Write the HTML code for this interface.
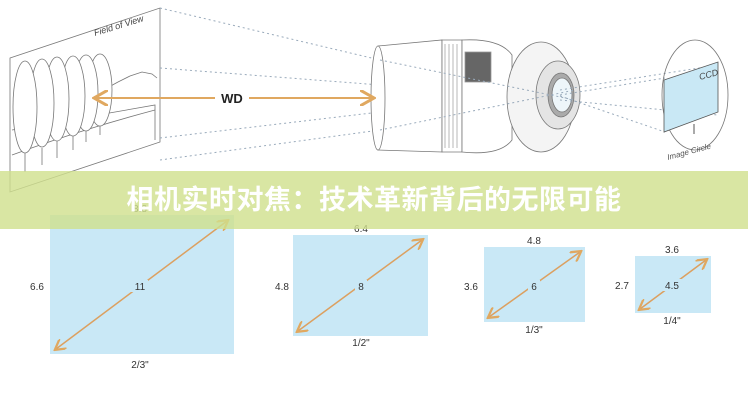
<!DOCTYPE html>
<html><head><meta charset="utf-8"><style>
body{margin:0;background:#fff;width:748px;height:400px;overflow:hidden;position:relative;font-family:"Liberation Sans",sans-serif}
svg{position:absolute;left:0;top:0}
.banner{position:absolute;left:0;top:171px;width:748px;height:58px;background:rgba(207,224,140,0.8);color:#fff;font:bold 27px "Liberation Sans","Noto Sans CJK SC",sans-serif;text-align:center;line-height:58px;letter-spacing:0.5px}
</style></head><body>
<svg width="748" height="400" viewBox="0 0 748 400" font-family="Liberation Sans, sans-serif">
<defs><marker id="a" markerWidth="8" markerHeight="8" refX="6" refY="4" orient="auto-start-reverse"><path d="M0,0 L7,4 L0,8" fill="none" stroke="#e0a860" stroke-width="1.5"/></marker></defs>
<g stroke="#777" fill="none" stroke-width="0.8">
<path d="M10,58 L160,8 L160,142 L10,192 Z"/>
<path d="M107,88 L118,82 L130,76 L142,72 L152,74 L157,78"/>
<path d="M12,130 L155,105 L155,140"/>
<path d="M12,155 Q80,130 155,110"/>
<g fill="#fff">
<ellipse cx="100" cy="90" rx="12" ry="36"/>
<ellipse cx="86" cy="93" rx="12" ry="38"/>
<ellipse cx="73" cy="96" rx="12" ry="40"/>
<ellipse cx="57" cy="99" rx="12" ry="42"/>
<ellipse cx="42" cy="103" rx="12" ry="44"/>
<ellipse cx="25" cy="107" rx="12" ry="46"/>
</g>
<path d="M25,153 V172 M42,148 V165 M57,141 V158 M73,136 V150 M86,131 V142 M100,126 V135"/>
</g>
<g stroke="#9ab" stroke-width="1" stroke-dasharray="2,3" fill="none">
<line x1="160" y1="8" x2="380" y2="60"/><line x1="160" y1="68" x2="380" y2="85"/>
<line x1="160" y1="138" x2="380" y2="112"/><line x1="160" y1="160" x2="380" y2="130"/>
</g>
<g stroke="#777" fill="#fff" stroke-width="0.8">
<path d="M378,46 L442,40 L442,152 L378,150 Z"/>
<ellipse cx="378" cy="98" rx="7" ry="52"/>
<path d="M442,40 L462,40 L462,152 L442,152 Z"/>
<path d="M462,40 Q500,38 512,55 L512,140 Q500,156 462,152 Z"/>
<rect x="465" y="52" width="26" height="30" fill="#666" stroke="#999"/>
<ellipse cx="541" cy="97" rx="34" ry="55" fill="#f4f4f4"/>
<ellipse cx="558" cy="95" rx="22" ry="34" fill="#e4e4e4"/>
<ellipse cx="561" cy="95" rx="13" ry="22" fill="#aaa"/>
<ellipse cx="562" cy="95" rx="10" ry="17" fill="#eef6fa"/>
</g>
<g stroke="#888" stroke-width="0.6"><path d="M445,44V148 M449,44V148 M453,44V148 M457,44V148"/></g>
<g stroke="#9ab" stroke-width="1" stroke-dasharray="2,3" fill="none">
<line x1="380" y1="60" x2="575" y2="100"/><line x1="380" y1="130" x2="575" y2="90"/>
<line x1="560" y1="90" x2="718" y2="65"/><line x1="560" y1="100" x2="718" y2="115"/>
<line x1="560" y1="95" x2="665" y2="78"/><line x1="560" y1="96" x2="665" y2="132"/>
</g>
<ellipse cx="695" cy="95" rx="33" ry="55" fill="none" stroke="#777" stroke-width="0.8"/>
<path d="M664,80 L718,62 L718,112 L664,132 Z" fill="#c9e8f5" stroke="#555" stroke-width="0.8"/>
<line x1="694" y1="124" x2="694" y2="134" stroke="#555"/>
<text x="700" y="80" font-size="9" font-style="italic" fill="#444" transform="rotate(-15 700 80)">CCD</text>
<text x="668" y="160" font-size="8" font-style="italic" fill="#555" transform="rotate(-15 668 160)">Image Circle</text>
<text x="95" y="36" font-size="9" font-style="italic" fill="#444" transform="rotate(-17 95 36)">Field of View</text>
<line x1="96" y1="98" x2="372" y2="98" stroke="#e0a860" stroke-width="2" marker-start="url(#a)" marker-end="url(#a)"/>
<rect x="215" y="90" width="34" height="16" fill="#fff"/>
<text x="232" y="103" font-size="13" font-weight="bold" text-anchor="middle" fill="#222">WD</text>
<g fill="#c9e8f6">
<rect x="50" y="215" width="184" height="139"/><rect x="293" y="235" width="135" height="101"/>
<rect x="484" y="247" width="101" height="75"/><rect x="635" y="256" width="76" height="57"/>
</g>
<g stroke="#dca060" stroke-width="1.5" marker-start="url(#a)" marker-end="url(#a)">
<line x1="56" y1="349" x2="227" y2="221"/><line x1="298" y1="331" x2="422" y2="240"/>
<line x1="489" y1="317" x2="580" y2="252"/><line x1="640" y1="309" x2="706" y2="260"/>
</g>
<g font-size="10" fill="#333" text-anchor="middle">
<rect x="130" y="280" width="18" height="12" fill="#c9e8f6"/><text x="140" y="290">11</text>
<rect x="355" y="280" width="12" height="12" fill="#c9e8f6"/><text x="361" y="290">8</text>
<rect x="528" y="280" width="12" height="12" fill="#c9e8f6"/><text x="534" y="290">6</text>
<rect x="662" y="279" width="20" height="12" fill="#c9e8f6"/><text x="672" y="289">4.5</text>
<text x="37" y="290">6.6</text><text x="282" y="290">4.8</text><text x="471" y="290">3.6</text><text x="622" y="289">2.7</text>
<text x="140" y="212">8.8</text><text x="361" y="232">6.4</text><text x="534" y="244">4.8</text><text x="672" y="253">3.6</text>
<text x="140" y="368">2/3"</text><text x="361" y="346">1/2"</text><text x="534" y="333">1/3"</text><text x="672" y="324">1/4"</text>
</g>
</svg>
<div class="banner">相机实时对焦：技术革新背后的无限可能</div>
</body></html>
